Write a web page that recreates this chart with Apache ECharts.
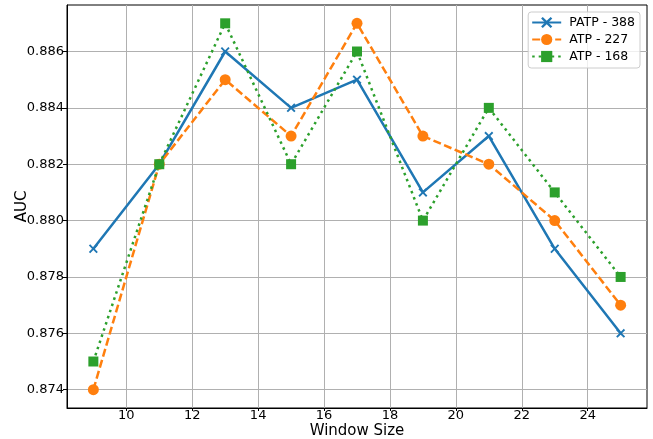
<!DOCTYPE html>
<html><head><meta charset="utf-8">
<script src="https://cdn.jsdelivr.net/npm/echarts@6/dist/echarts.min.js"></script>
<style>html,body{margin:0;padding:0;background:#fff}#c{width:653px;height:439px}</style>
</head><body><div id="c"></div>
<script>
const windowSizes = [9, 11, 13, 15, 17, 19, 21, 23, 25];
const patp388 = [0.879, 0.882, 0.886, 0.884, 0.885, 0.881, 0.883, 0.879, 0.876];
const atp227 = [0.874, 0.882, 0.885, 0.883, 0.887, 0.883, 0.882, 0.880, 0.877];
const atp168 = [0.875, 0.882, 0.887, 0.882, 0.886, 0.880, 0.884, 0.881, 0.878];
const xTicks = [10, 12, 14, 16, 18, 20, 22, 24];
const yTicks = [0.874, 0.876, 0.878, 0.880, 0.882, 0.884, 0.886];

const xPath = 'path://M1.5,0 L5,3.5 L8.5,0 L10,1.5 L6.5,5 L10,8.5 L8.5,10 L5,6.5 L1.5,10 L0,8.5 L3.5,5 L0,1.5 Z';
const font = 'DejaVu Sans';
const chart = echarts.init(document.getElementById('c'), null, {renderer: 'canvas'});
const pair = arr => windowSizes.map((x, i) => [x, arr[i]]);
chart.setOption({
  animation: false,
  grid: {left: 67, right: 6, top: 5, bottom: 31, containLabel: false, outerBoundsMode: 'none',
         show: true, borderColor: '#000', borderWidth: 1, backgroundColor: 'transparent'},
  legend: {
    right: 13, top: 12, orient: 'vertical', itemGap: 4, itemWidth: 29, itemHeight: 14,
    borderColor: '#ccc', borderWidth: 1, borderRadius: 3, padding: [4, 5, 5, 3],
    backgroundColor: 'rgba(255,255,255,0.8)',
    textStyle: {fontFamily: font, fontSize: 12.5, color: '#000', padding: [0, 0, 0, 3]},
    data: ['PATP - 388', 'ATP - 227', 'ATP - 168']
  },
  xAxis: {
    type: 'value', min: 8.2, max: 25.8,
    name: 'Window Size', nameLocation: 'middle', nameGap: 16, nameMoveOverlap: false,
    nameTextStyle: {fontFamily: font, fontSize: 15, color: '#000', verticalAlign: 'top'},
    axisLine: {show: true, lineStyle: {color: '#000', width: 1}},
    axisTick: {show: true, inside: false, length: 3, customValues: xTicks, lineStyle: {color: '#000'}},
    axisLabel: {customValues: xTicks, fontFamily: font, fontSize: 13, color: '#000', margin: 1},
    splitLine: {show: true, lineStyle: {color: '#b0b0b0', width: 1}}
  },
  yAxis: {
    type: 'value', min: 0.87335, max: 0.88765,
    name: 'AUC', nameLocation: 'middle', nameGap: 37, nameMoveOverlap: false,
    nameTextStyle: {fontFamily: font, fontSize: 15, color: '#000'},
    axisLine: {show: true, lineStyle: {color: '#000', width: 1}},
    axisTick: {show: true, inside: false, length: 4, customValues: yTicks, lineStyle: {color: '#000'}},
    axisLabel: {customValues: yTicks, fontFamily: font, fontSize: 13, color: '#000', margin: 3, formatter: v => v.toFixed(3)},
    splitLine: {show: true, lineStyle: {color: '#b0b0b0', width: 1}}
  },
  series: [
    {name: 'PATP - 388', type: 'line', data: pair(patp388), color: '#1f77b4',
     lineStyle: {width: 2.5, type: 'solid'}, symbol: xPath, symbolSize: 9, showAllSymbol: true,
     itemStyle: {color: '#1f77b4'}},
    {name: 'ATP - 227', type: 'line', data: pair(atp227), color: '#ff7f0e',
     lineStyle: {width: 2.5, type: [8, 3.5]}, symbol: 'circle', symbolSize: 11,
     itemStyle: {color: '#ff7f0e'}},
    {name: 'ATP - 168', type: 'line', data: pair(atp168), color: '#2ca02c',
     lineStyle: {width: 2.5, type: [2.5, 4]}, symbol: 'rect', symbolSize: 10,
     itemStyle: {color: '#2ca02c'}}
  ]
});
</script></body></html>
